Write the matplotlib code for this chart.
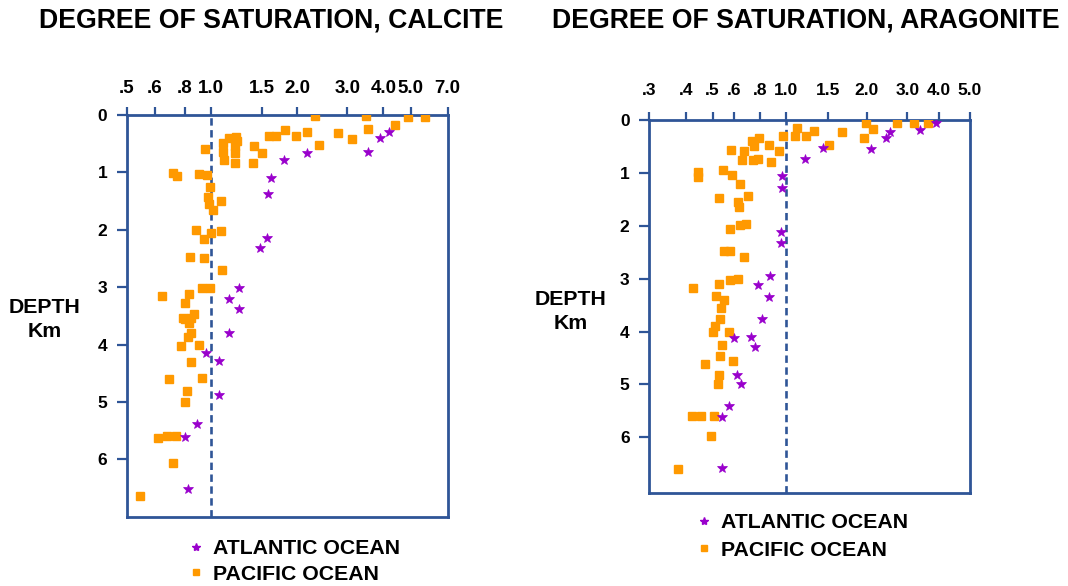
import numpy as np
import matplotlib
matplotlib.use("Agg")
import matplotlib.pyplot as plt
from matplotlib.ticker import FixedLocator, FixedFormatter
from matplotlib.lines import Line2D

plt.rcParams['font.family'] = ['Liberation Sans', 'DejaVu Sans']
plt.rcParams['font.weight'] = 'bold'

# ---------------- data ----------------
# Calcite panel
calc_tick_vals = [0.5, 0.6, 0.8, 1.0, 1.5, 2.0, 3.0, 4.0, 5.0, 7.0]
calc_tick_labels = ['.5', '.6', '.8', '1.0', '1.5', '2.0', '3.0', '4.0', '5.0', '7.0']
calc_pac_sat = [2.30, 3.47, 4.90, 5.69, 4.41, 3.55, 1.81, 2.17, 2.79, 3.12, 1.58, 1.68,
                1.98, 1.15, 1.22, 1.23, 1.10, 1.21, 1.40, 2.38, 0.952, 1.10, 1.21, 1.50,
                1.11, 1.21, 1.39, 0.715, 0.743, 0.902, 0.969, 0.994, 0.977, 1.08, 0.986,
                1.02, 0.882, 1.0, 1.08, 0.944, 0.835, 0.944, 1.09, 0.928, 0.994, 0.642,
                0.830, 0.802, 0.867, 0.787, 0.802, 0.830, 0.845, 0.845, 0.823, 0.772,
                0.905, 0.845, 0.688, 0.928, 0.816, 0.802, 0.619, 0.675, 0.736, 0.715, 0.546]
calc_pac_depth = [0.01, 0.01, 0.03, 0.03, 0.17, 0.24, 0.27, 0.29, 0.31, 0.41, 0.36, 0.36,
                  0.36, 0.40, 0.38, 0.45, 0.48, 0.54, 0.54, 0.52, 0.59, 0.64, 0.67, 0.66,
                  0.78, 0.83, 0.83, 1.01, 1.06, 1.02, 1.04, 1.25, 1.43, 1.49, 1.55,
                  1.65, 2.01, 2.05, 2.03, 2.16, 2.47, 2.50, 2.70, 3.01, 3.01, 3.15,
                  3.12, 3.27, 3.47, 3.54, 3.56, 3.62, 3.54, 3.80, 3.87, 4.02,
                  4.01, 4.30, 4.60, 4.58, 4.81, 5.00, 5.63, 5.59, 5.59, 6.06, 6.64]
calc_atl_sat = [4.18, 3.91, 3.54, 2.16, 1.79, 1.61, 1.57, 1.56, 1.47, 1.25, 1.15, 1.25,
                1.15, 0.958, 1.065, 1.065, 0.885, 0.80, 0.823]
calc_atl_depth = [0.29, 0.40, 0.645, 0.66, 0.78, 1.10, 1.37, 2.14, 2.31, 3.01, 3.21, 3.38,
                  3.80, 4.15, 4.29, 4.88, 5.39, 5.61, 6.52]

# Aragonite panel
arag_tick_vals = [0.3, 0.4, 0.5, 0.6, 0.8, 1.0, 1.5, 2.0, 3.0, 4.0, 5.0]
arag_tick_labels = ['.3', '.4', '.5', '.6', '.8', '1.0', '1.5', '2.0', '3.0', '4.0', '5.0']
arag_pac_sat = [1.98, 2.71, 3.19, 3.62, 1.11, 1.31, 1.67, 2.13, 1.95, 0.98, 1.09, 1.22,
                0.795, 0.734, 0.75, 0.867, 1.51, 0.946, 0.585, 0.671, 0.656, 0.742, 0.785,
                0.882, 0.547, 0.443, 0.443, 0.59, 0.642, 0.529, 0.702, 0.628, 0.635, 0.58,
                0.642, 0.687, 0.551, 0.58, 0.671, 0.58, 0.628, 0.529, 0.425, 0.516, 0.551,
                0.538, 0.533, 0.511, 0.503, 0.575, 0.542, 0.533, 0.595, 0.47, 0.529, 0.524,
                0.422, 0.455, 0.507, 0.494, 0.377]
arag_pac_depth = [0.06, 0.06, 0.06, 0.06, 0.14, 0.20, 0.22, 0.16, 0.33, 0.29, 0.29, 0.29,
                  0.33, 0.39, 0.48, 0.46, 0.46, 0.59, 0.56, 0.59, 0.75, 0.75, 0.73,
                  0.78, 0.94, 0.98, 1.07, 1.03, 1.20, 1.47, 1.43, 1.54, 1.64, 2.05,
                  1.98, 1.96, 2.47, 2.47, 2.59, 3.02, 3.00, 3.09, 3.17, 3.32, 3.40,
                  3.55, 3.77, 3.89, 4.00, 4.00, 4.25, 4.46, 4.55, 4.61, 4.83, 5.00,
                  5.59, 5.59, 5.59, 5.97, 6.61]
arag_atl_sat = [3.89, 3.35, 2.53, 2.43, 2.09, 1.43, 1.21, 0.966, 0.966, 0.96, 0.957, 0.875,
                0.78, 0.867, 0.814, 0.721, 0.599, 0.759, 0.62, 0.649, 0.574, 0.542, 0.54]
arag_atl_depth = [0.06, 0.19, 0.22, 0.33, 0.54, 0.52, 0.73, 1.05, 1.28, 2.11, 2.32, 2.95,
                  3.11, 3.34, 3.77, 4.10, 4.13, 4.30, 4.82, 4.99, 5.41, 5.62, 6.59]

depth_ticks = [0, 1, 2, 3, 4, 5, 6]

# the hand-drawn axes are nearly logarithmic; relative tick positions (fraction of width)
calc_tick_pos = [0.0, 0.0882, 0.1816, 0.2626, 0.4224, 0.5315, 0.6872, 0.7994, 0.8847, 1.0]
arag_tick_pos = [0.0, 0.1153, 0.1984, 0.2657, 0.3458, 0.4259, 0.5567, 0.6791, 0.8047, 0.9044, 1.0]

ORANGE = '#FF9900'
PURPLE = '#9900CC'
BLUE = '#2F5597'


def make_scale(vals, pos):
    lv = np.log10(vals)
    pos = np.asarray(pos, dtype=float)
    s0 = (pos[1] - pos[0]) / (lv[1] - lv[0])
    s1 = (pos[-1] - pos[-2]) / (lv[-1] - lv[-2])
    lvx = np.concatenate([[lv[0] - 5], lv, [lv[-1] + 5]])
    px = np.concatenate([[pos[0] - 5 * s0], pos, [pos[-1] + 5 * s1]])

    def fwd(v):
        v = np.clip(np.asarray(v, dtype=float), 1e-12, None)
        return np.interp(np.log10(v), lvx, px)

    def inv(p):
        return 10 ** np.interp(np.asarray(p, dtype=float), px, lvx)
    return fwd, inv


fig = plt.figure(figsize=(10.68, 5.86), dpi=100)

panels = [
    dict(rect=[126.7 / 1068, 1 - 516.7 / 586, 321 / 1068, 401.7 / 586],
         vals=calc_tick_vals, labels=calc_tick_labels, pos=calc_tick_pos,
         pac=(calc_pac_sat, calc_pac_depth), atl=(calc_atl_sat, calc_atl_depth),
         ymax=7.0, title='DEGREE OF SATURATION, CALCITE', title_x=271.5,
         depth_xy=(45, 319.5), leg_xy=(191, 539.5), leg_sp=0.30, xls=13.5, xpad=7.3),
    dict(rect=[649 / 1068, 1 - 492.7 / 586, 321 / 1068, 372.4 / 586],
         vals=arag_tick_vals, labels=arag_tick_labels, pos=arag_tick_pos,
         pac=(arag_pac_sat, arag_pac_depth), atl=(arag_atl_sat, arag_atl_depth),
         ymax=7.05, title='DEGREE OF SATURATION, ARAGONITE', title_x=806,
         depth_xy=(571, 311.5), leg_xy=(699, 513), leg_sp=0.41, xls=12.5, xpad=9.8),
]

for p in panels:
    ax = fig.add_axes(p['rect'])
    fwd, inv = make_scale(p['vals'], p['pos'])
    ax.set_xscale('function', functions=(fwd, inv))
    ax.set_xlim(p['vals'][0], p['vals'][-1])
    ax.set_ylim(p['ymax'], 0)

    ax.axvline(1.0, color=BLUE, lw=1.9, ls=(0, (2.8, 1.7)), zorder=1)
    ax.plot(p['pac'][0], p['pac'][1], ls='none', marker='s', ms=5.2,
            color=ORANGE, mec=ORANGE, zorder=3)
    ax.plot(p['atl'][0], p['atl'][1], ls='none', marker='*', ms=7,
            color=PURPLE, mec=PURPLE, mew=0.5, zorder=4)

    ax.xaxis.set_major_locator(FixedLocator(p['vals']))
    ax.xaxis.set_major_formatter(FixedFormatter(p['labels']))
    ax.xaxis.set_minor_locator(FixedLocator([]))
    ax.xaxis.tick_top()
    ax.set_yticks(depth_ticks)
    ax.set_yticklabels([str(d) for d in depth_ticks])
    ax.tick_params(axis='x', which='major', top=True, bottom=False, direction='out',
                   length=6, width=1.6, color=BLUE, pad=p['xpad'], labelsize=p['xls'])
    ax.tick_params(axis='y', which='major', left=True, direction='out',
                   length=7, width=1.6, color=BLUE, pad=7, labelsize=12.5)
    for lab in ax.get_xticklabels() + ax.get_yticklabels():
        lab.set_fontweight('bold')
    for sp in ax.spines.values():
        sp.set_color(BLUE)
        sp.set_linewidth(2.0)

    fig.text(p['title_x'] / 1068, 1 - 20 / 586, p['title'], ha='center', va='center',
             fontsize=19.2, fontweight='bold')
    fig.text(p['depth_xy'][0] / 1068, 1 - p['depth_xy'][1] / 586, 'DEPTH\nKm',
             ha='center', va='center', fontsize=15.3, fontweight='bold', linespacing=1.3)

    handles = [Line2D([], [], ls='none', marker='*', ms=6, color=PURPLE, mec=PURPLE),
               Line2D([], [], ls='none', marker='s', ms=5, color=ORANGE, mec=ORANGE)]
    fig.legend(handles, ['ATLANTIC OCEAN', 'PACIFIC OCEAN'], loc='upper left',
               bbox_to_anchor=(p['leg_xy'][0] / 1068, 1 - p['leg_xy'][1] / 586),
               frameon=False, prop=dict(size=15.3, weight='bold'), handlelength=0.5,
               handletextpad=0.55, borderpad=0, borderaxespad=0, labelspacing=p['leg_sp'])

fig.savefig('out.png', dpi=100)
